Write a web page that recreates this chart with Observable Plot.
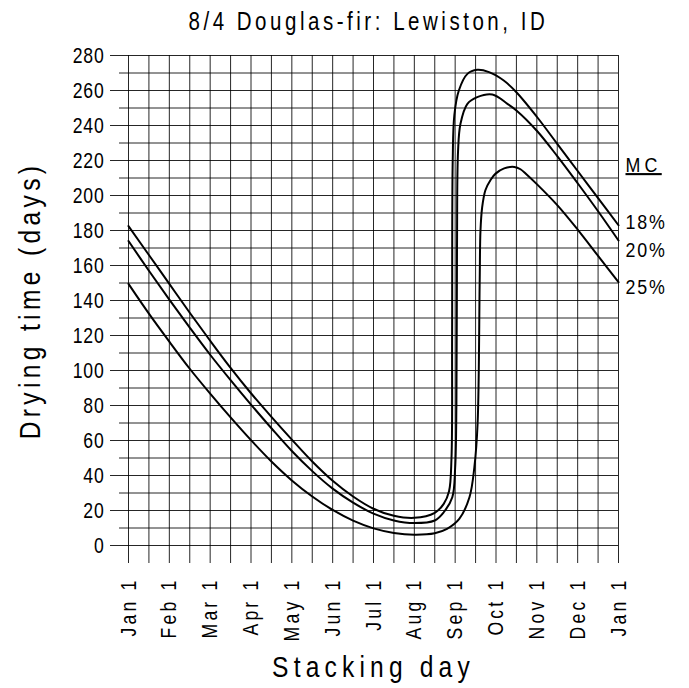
<!DOCTYPE html>
<html>
<head>
<meta charset="utf-8">
<script src="https://cdn.jsdelivr.net/npm/d3@7"></script>
<script src="https://cdn.jsdelivr.net/npm/@observablehq/plot@0.6"></script>
<style>
  body { margin: 0; background: #fff; }
  #title {
    width: 689px; height: 40px; box-sizing: border-box;
    padding-left: 118px; padding-right: 71px;
    font-family: "Liberation Sans", Arial, sans-serif;
    font-size: 25px; line-height: 42px;
    text-align: center; color: #000; white-space: nowrap;
  }
  #title span { display: inline-block; transform: scaleX(0.82); letter-spacing: 4.3px; }
</style>
</head>
<body>
<div id="title"><span>8/4 Douglas-fir: Lewiston, ID</span></div>
<div id="chart"></div>
<script>
// Month tick labels (x = months since Jan 1)
const monthLabels = ["Jan 1","Feb 1","Mar 1","Apr 1","May 1","Jun 1","Jul 1","Aug 1","Sep 1","Oct 1","Nov 1","Dec 1","Jan 1"];
const yTickValues = [0,20,40,60,80,100,120,140,160,180,200,220,240,260,280];

// 18% MC
const m18 = [0,0.5,1,1.5,2,2.5,3,3.5,4,4.5,5,5.5,6,6.5,7,7.5,7.72,7.85,7.91,7.925,7.94,7.98,8.09,8.3,8.54,8.83,9.19,9.5,10,10.5,11,11.5,12];
const v18 = [182.5,166,149.5,133,117,101.5,87,73.5,60.5,48,37,28,21,17,15.8,18.7,23.8,31,50,120,220,246,260,269.5,271.8,270.5,265.7,259,245,229.5,214,198.5,183];
// 20% MC
const m20 = [0,0.5,1,1.5,2,2.5,3,3.5,4,4.5,5,5.5,6,6.5,7,7.5,7.72,7.93,8.0,8.03,8.045,8.07,8.13,8.3,8.54,8.91,9.28,9.5,10,10.5,11,11.5,12];
const v20 = [174,157,140.5,124.5,109,94.5,80.5,67,54,42.5,32.5,24.5,18.2,14.3,12.8,14.3,19,27.6,44.7,80,170,225,241,252.4,256.2,257.7,252.4,248.6,237,222.5,207,191,174.3];
// 25% MC
const m25 = [0,0.5,1,1.5,2,2.5,3,3.5,4,4.5,5,5.5,6,6.5,7,7.5,7.8,8.1,8.35,8.47,8.55,8.6,8.62,8.66,8.74,8.87,8.99,9.2,9.45,9.6,9.75,10,10.5,11,11.5,12];
const v25 = [149.5,132.5,116.5,101,86.8,73.2,60.2,48,37.2,28,20.3,14.2,9.8,7.2,6.2,7,9.5,15.2,27.6,44.7,70,150,180,193,203,209,212.5,215.5,216.3,215,212,206.5,194.5,180.5,165.5,150.5];

const seriesNames = ["18%","20%","25%"];
const seriesM = [m18, m20, m25];
const seriesV = [v18, v20, v25];
const labelDy = [-3, 10, 5];

const curves = seriesNames.flatMap((name, k) => seriesM[k].map((m, i) => ({name, m, v: seriesV[k][i]})));
const ends = seriesNames.map((name, k) => ({name, m: 12, v: seriesV[k][seriesV[k].length - 1]}));

const halfMonths = d3.range(0, 12.01, 0.5);
const tens = d3.range(0, 281, 10);
const minorY = d3.range(10, 281, 20);

const font = '"Liberation Sans", Arial, sans-serif';

const chart = Plot.plot({
  width: 689,
  height: 648,
  marginTop: 15,
  marginBottom: 143,
  marginLeft: 128,
  marginRight: 71,
  style: { fontFamily: font, fontSize: "19px", color: "#000", background: "#fff", overflow: "visible" },
  x: { domain: [0, 12] },
  y: { domain: [0, 280] },
  marks: [
    Plot.ruleX(halfMonths, { y1: 0, y2: 280, stroke: "#000", strokeOpacity: 0.85 }),
    Plot.ruleY(tens, { stroke: "#000", strokeOpacity: 0.85 }),
    Plot.axisY({ ticks: yTickValues, tickSize: 18, tickPadding: 6, label: null, fontSize: 22, strokeOpacity: 0.85 }),
    Plot.axisY({ ticks: minorY, tickSize: 9, tickFormat: () => "", label: null, strokeOpacity: 0.85 }),
    Plot.axisX({
      ticks: halfMonths, tickSize: 18, tickPadding: 14, tickRotate: -90, label: null,
      fontSize: 22, strokeOpacity: 0.85,
      tickFormat: d => Number.isInteger(d) ? monthLabels[d] : ""
    }),
    Plot.line(curves, { x: "m", y: "v", z: "name", curve: "catmull-rom", stroke: "#000", strokeWidth: 2 }),
    ...ends.map((e, k) => Plot.text([e], { x: "m", y: "v", text: "name", dx: 7, dy: labelDy[k], textAnchor: "start", fontSize: 21 })),
    Plot.text([ends[0]], { x: "m", y: "v", text: () => "MC", dx: 7, dy: -60, textAnchor: "start", fontSize: 21 }),
    Plot.text(["Stacking day"], { frameAnchor: "bottom", lineAnchor: "middle", dy: 122, fontSize: 30 }),
    Plot.text(["Drying time (days)"], { frameAnchor: "left", textAnchor: "middle", rotate: -90, dx: -98, fontSize: 30 })
  ]
});

document.getElementById("chart").appendChild(chart);

// Narrow (condensed) lettering with wide tracking, as in the reference
function condense(el, s, spacing) {
  const t = el.getAttribute("transform") || "";
  el.setAttribute("transform", (t + ` scale(${s},1)`).trim());
  el.style.letterSpacing = spacing + "px";
}
d3.select(chart).selectAll("text").each(function() {
  const txt = this.textContent;
  if (!txt) return;
  if (txt === "Stacking day") condense(this, 0.82, 6.3);
  else if (txt === "Drying time (days)") condense(this, 0.82, 5.3);
  else if (txt === "MC") { condense(this, 0.85, 5); this.style.textDecoration = "underline"; }
  else if (seriesNames.includes(txt)) condense(this, 0.85, 2.2);
  else if (monthLabels.includes(txt)) condense(this, 0.8, 4);
  else if (yTickValues.map(String).includes(txt)) condense(this, 0.8, 1);
});
</script>
</body>
</html>
